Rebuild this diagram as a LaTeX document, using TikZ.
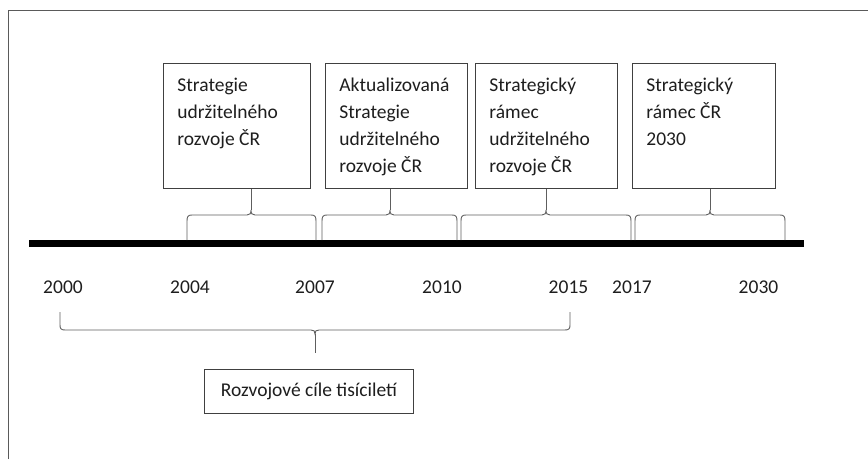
\documentclass[tikz,border=0pt]{standalone}
\usepackage{fontspec}
\setmainfont{Carlito}
\definecolor{framegray}{HTML}{5A5A5A}
\definecolor{boxgray}{HTML}{404040}
\definecolor{bracegray}{HTML}{5E5E5E}
\definecolor{txt}{HTML}{1E1E1E}
\newcommand{\evtext}[2]{\parbox[t][125pt][t]{#1}{\fontsize{19.5pt}{27pt}\selectfont\leftskip=14pt\parindent=0pt\rightskip=0pt plus 1fil\vspace*{8.7pt}\strut #2}}
% #1 tip coordinate name, #2 left x, #3 tip x, #4 right x
\newcommand{\upbrace}[4]{%
  \coordinate (#1) at (#3,210);
  \draw[brace] (#2,240) -- (#2,221) .. controls (#2,216.5) and (#2+1,215) .. (#2+5,215)
     -- (#3-4,215) .. controls (#3-1,215) and (#3,213.5) .. (#1)
     .. controls (#3,213.5) and (#3+1,215) .. (#3+4,215)
     -- (#4-5,215) .. controls (#4-1,215) and (#4,216.5) .. (#4,221) -- (#4,240);}
\begin{document}
\begin{tikzpicture}[x=1pt,y=-1pt,
  frame/.style={draw=framegray, line width=0.9pt},
  evbox/.style={draw=boxgray, line width=0.9pt, inner sep=0pt, anchor=north west, text=txt},
  year/.style={anchor=base, text=txt, inner sep=0pt, font=\fontsize{19.5pt}{27pt}\selectfont},
  brace/.style={draw=bracegray, line width=0.9pt},
  bar/.style={line width=7pt, draw=black}]
\useasboundingbox (0,0) rectangle (868,459);
\fill[white] (0,0) rectangle (868,459);
\draw[frame] (8,459) -- (8,10) -- (868,10);

% boxes
\node[evbox] (b1) at (163,63) {\evtext{147pt}{Strategie\\udržitelného\\rozvoje ČR}};
\node[evbox] (b2) at (325,63) {\evtext{142pt}{Aktualizovaná\\Strategie\\udržitelného\\rozvoje ČR}};
\node[evbox] (b3) at (475,63) {\evtext{142pt}{Strategický\\rámec\\udržitelného\\rozvoje ČR}};
\node[evbox] (b4) at (632,63) {\evtext{143pt}{Strategický\\rámec ČR\\2030}};

% timeline bar
\coordinate (bl) at (29,243.5);
\coordinate (br) at (804,243.5);
\draw[bar] (bl) -- (br);

% braces above the bar
\upbrace{t1}{187}{251}{316}
\upbrace{t2}{322}{390}{457}
\upbrace{t3}{461}{546}{631}
\upbrace{t4}{635}{710}{785}
\draw[brace] (t1) -- (b1.south -| t1);
\draw[brace] (t2) -- (b2.south -| t2);
\draw[brace] (t3) -- (b3.south -| t3);
\draw[brace] (t4) -- (b4.south -| t4);

% years
\node[year] (y2000) at (63,293) {2000};
\node[year] (y2004) at (190,293) {2004};
\node[year] (y2007) at (315,293) {2007};
\node[year] (y2010) at (442,293) {2010};
\node[year] (y2015) at (568.5,293) {2015};
\node[year] (y2017) at (632,293) {2017};
\node[year] (y2030) at (758.5,293) {2030};

% lower brace
\coordinate (t5) at (315,334);
\coordinate (s5) at (315,353);
\draw[brace] (60,312) -- (60,325) .. controls (60,328.5) and (61,330) .. (65,330)
   -- (311,330) .. controls (314,330) and (315,331) .. (t5)
   .. controls (315,331) and (316,330) .. (319,330)
   -- (565,330) .. controls (569,330) and (570,328.5) .. (570,325) -- (570,312);
\draw[brace] (t5) -- (s5);

\node[draw=boxgray, line width=0.9pt, inner sep=0pt, anchor=north west,
  minimum width=209pt, minimum height=44pt, text=txt,
  font=\fontsize{19.5pt}{27pt}\selectfont] (b5) at (204,369) {Rozvojové cíle tisíciletí};
\end{tikzpicture}
\end{document}
